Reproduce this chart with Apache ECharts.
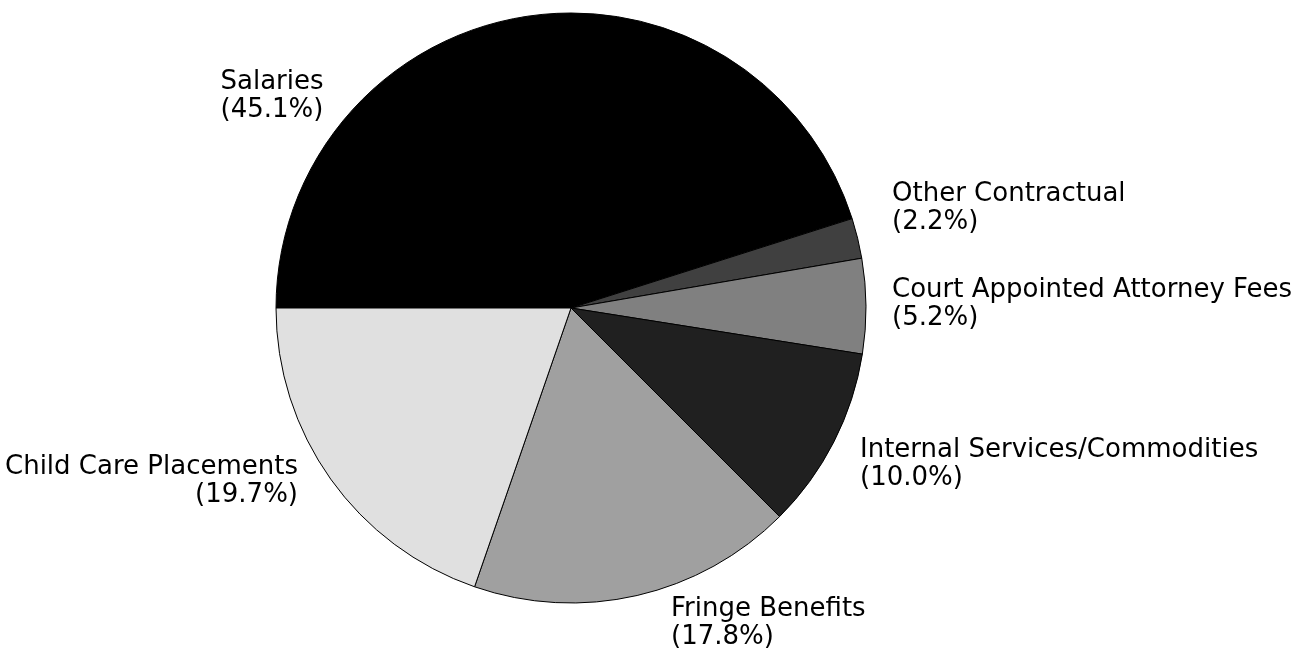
<!DOCTYPE html>
<html>
<head>
<meta charset="utf-8">
<script src="https://cdn.jsdelivr.net/npm/echarts@6/dist/echarts.min.js"></script>
<style>
  html, body { margin: 0; padding: 0; background: #fff; }
  #pieChart { width: 1315px; height: 648px; }
</style>
</head>
<body>
<div id="pieChart"></div>
<script>
// ---------- data ----------
const categories = ['Salaries', 'Other Contractual', 'Court Appointed Attorney Fees',
  'Internal Services/Commodities', 'Fringe Benefits', 'Child Care Placements'];
const shares = [45.1, 2.2, 5.2, 10.0, 17.8, 19.7];

// slice fills, same order as categories
const sliceColors = ['#000000', '#404040', '#808080', '#202020', '#a0a0a0', '#e0e0e0'];

// label placement (x, top y, alignment) per slice
const labelSpots = [
  { x: 272, y: 68, align: 'center' },
  { x: 892, y: 180, align: 'left' },
  { x: 892, y: 276, align: 'left' },
  { x: 860, y: 436, align: 'left' },
  { x: 671, y: 595, align: 'left' },
  { x: 298, y: 453, align: 'right' }
];

var pieChart = echarts.init(document.getElementById('pieChart'));

const pieOption = {
  animation: false,
  series: [
    {
      type: 'pie',
      center: [571, 308],
      radius: 295,
      startAngle: 180,
      clockwise: true,
      avoidLabelOverlap: false,
      itemStyle: { borderColor: '#000', borderWidth: 1 },
      emphasis: { disabled: true },
      label: {
        show: true,
        position: 'outside',
        formatter: function (p) {
          return '{t|' + p.name + '}\n{t|(' + p.value.toFixed(1) + '%)}';
        }
      },
      labelLine: { show: false },
      labelLayout: function (params) {
        const s = labelSpots[params.dataIndex];
        return { x: s.x, y: s.y, align: s.align, verticalAlign: 'top' };
      },
      data: categories.map((name, i) => ({
        name: name,
        value: shares[i],
        itemStyle: { color: sliceColors[i] },
        label: {
          align: labelSpots[i].align,
          rich: {
            t: {
              align: labelSpots[i].align,
              color: '#000',
              fontFamily: 'DejaVu Sans',
              fontSize: 26,
              lineHeight: 28
            }
          }
        }
      }))
    }
  ]
};

pieChart.setOption(pieOption);
</script>
</body>
</html>
